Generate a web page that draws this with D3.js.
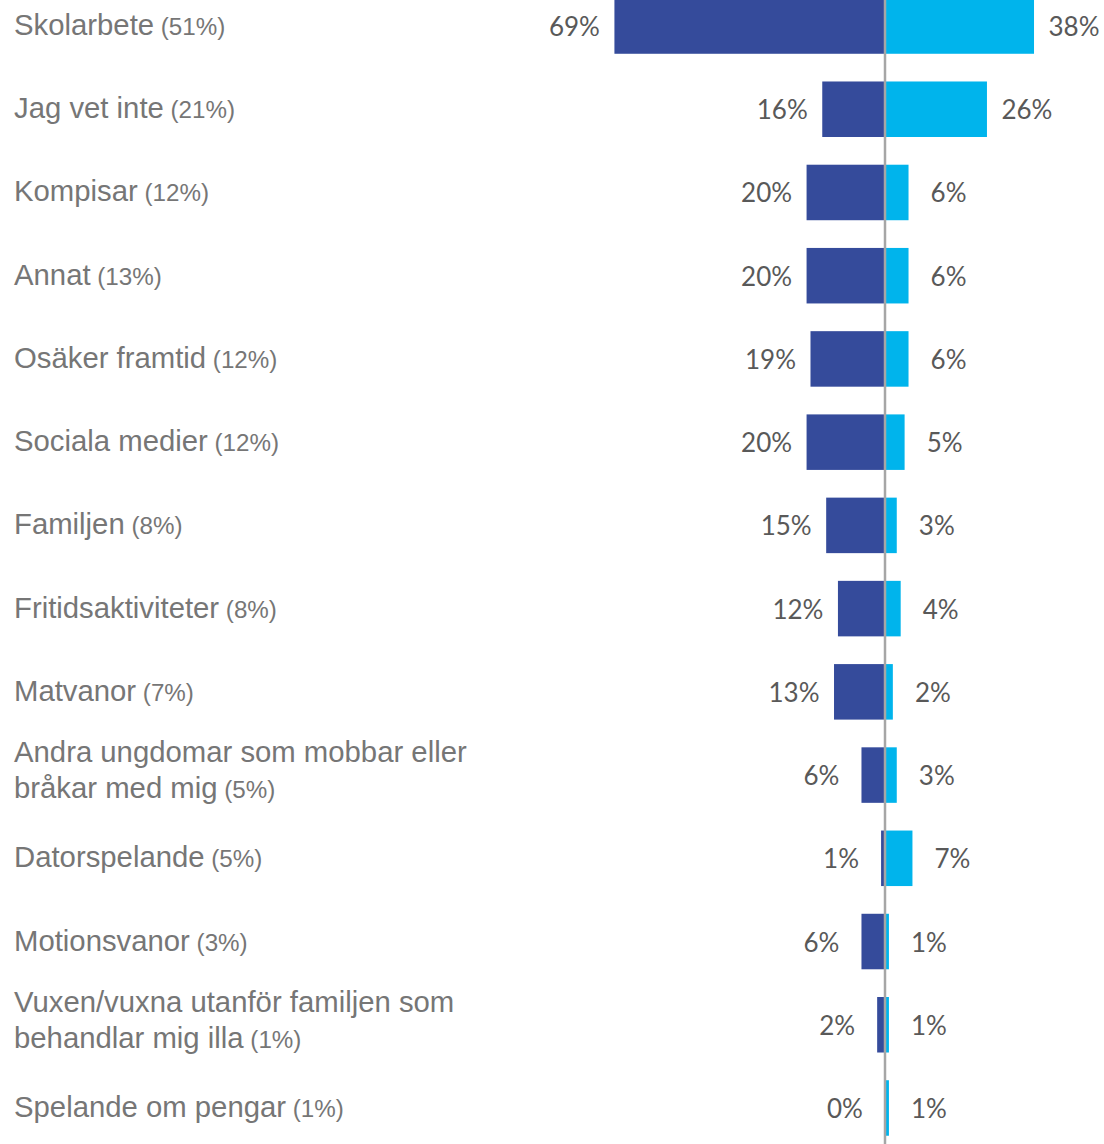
<!DOCTYPE html>
<html>
<head>
<meta charset="utf-8">
<script src="https://cdn.jsdelivr.net/npm/d3@7"></script>
<style>
  body { margin: 0; background: #fff; }
</style>
</head>
<body>
<div id="chart"></div>
<script>
// categories, split into lines, with total share in parentheses
const categories = [
  ["Skolarbete"],
  ["Jag vet inte"],
  ["Kompisar"],
  ["Annat"],
  ["Osäker framtid"],
  ["Sociala medier"],
  ["Familjen"],
  ["Fritidsaktiviteter"],
  ["Matvanor"],
  ["Andra ungdomar som mobbar eller", "bråkar med mig"],
  ["Datorspelande"],
  ["Motionsvanor"],
  ["Vuxen/vuxna utanför familjen som", "behandlar mig illa"],
  ["Spelande om pengar"]
]
const totals = ["51%", "21%", "12%", "13%", "12%", "12%", "8%", "8%", "7%", "5%", "5%", "3%", "1%", "1%"]
// left series (dark) and right series (light)
const leftValues = [69, 16, 20, 20, 19, 20, 15, 12, 13, 6, 1, 6, 2, 0]
const rightValues = [38, 26, 6, 6, 6, 5, 3, 4, 2, 3, 7, 1, 1, 1]

const width = 1104, height = 1144
const cx = 885

const svg = d3.select("#chart").append("svg")
    .attr("width", width)
    .attr("height", height)

let x = d3.scaleLinear()
    .domain([-70, 70])
    .range([cx - 274.5, cx + 274.5])

let y = d3.scaleBand()
    .domain(d3.range(categories.length))
    .range([-15.6, 1149.6])
    .paddingInner(0.333)
    .paddingOuter(0.1665)

let data = categories.map((c, i) => ({
    lines: c, total: totals[i], left: leftValues[i], right: rightValues[i], i: i
}))

// left bars
svg.selectAll(".lbar")
    .data(data).enter().append("rect")
    .attr("x", d => x(-d.left))
    .attr("y", d => y(d.i))
    .attr("width", d => x(0) - x(-d.left))
    .attr("height", y.bandwidth())
    .style("fill", "#354b9b")

// right bars
svg.selectAll(".rbar")
    .data(data).enter().append("rect")
    .attr("x", x(0))
    .attr("y", d => y(d.i))
    .attr("width", d => x(d.right) - x(0))
    .attr("height", y.bandwidth())
    .style("fill", "#00b4ec")

// center line
svg.append("line")
    .attr("x1", x(0)).attr("x2", x(0))
    .attr("y1", 0).attr("y2", height)
    .style("stroke", "#a6a6a6")
    .style("stroke-width", 2.5)

const mid = d => y(d.i) + y.bandwidth() / 2

// value labels
svg.selectAll(".lval")
    .data(data).enter().append("text")
    .attr("x", d => x(-d.left) - 40)
    .attr("y", d => mid(d) + 10)
    .style("text-anchor", "middle")
    .style("font-family", "Lato, sans-serif")
    .style("font-size", "26px")
    .style("fill", "#595959")
    .text(d => d.left + "%")

svg.selectAll(".rval")
    .data(data).enter().append("text")
    .attr("x", d => x(d.right) + 40)
    .attr("y", d => mid(d) + 10)
    .style("text-anchor", "middle")
    .style("font-family", "Lato, sans-serif")
    .style("font-size", "26px")
    .style("fill", "#595959")
    .text(d => d.right + "%")

// category labels
let labels = svg.selectAll(".cat")
    .data(data).enter().append("text")
    .attr("x", 14)
    .style("font-family", "'Liberation Sans', Arial, sans-serif")
    .style("font-size", "29.3px")
    .style("fill", "#767676")

labels.each(function(d) {
    let t = d3.select(this)
    let n = d.lines.length
    d.lines.forEach((line, k) => {
        let base = n == 1 ? mid(d) + 9 : mid(d) - 13 + k * 36
        t.append("tspan").attr("x", 14).attr("y", base).text(line)
        if (k == n - 1) {
            t.append("tspan")
                .style("font-size", "24.2px")
                .text(" (" + d.total + ")")
        }
    })
})
</script>
</body>
</html>
